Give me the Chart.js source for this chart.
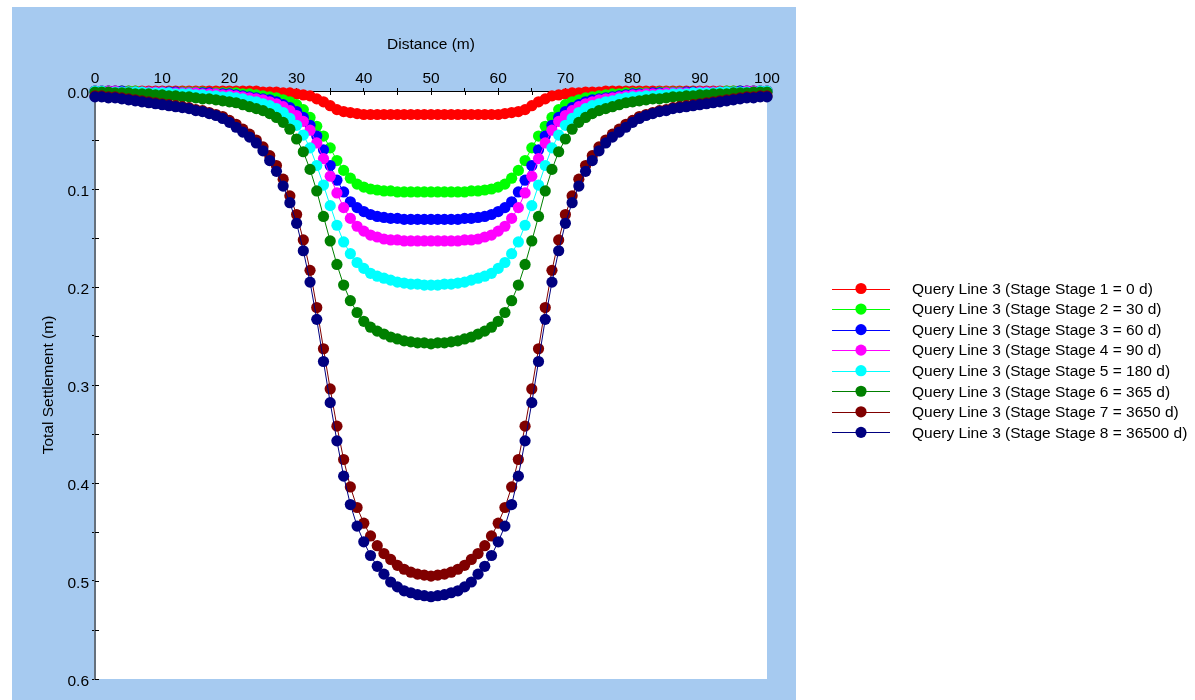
<!DOCTYPE html>
<html>
<head>
<meta charset="utf-8">
<title>Total Settlement along Query Line 3</title>
<script src="https://cdn.jsdelivr.net/npm/chart.js@4.4.1/dist/chart.umd.min.js"></script>
<style>
  html, body { margin: 0; padding: 0; background: #ffffff; }
  canvas { display: block; }
</style>
</head>
<body>
<canvas id="settlementChart" width="1195" height="700"></canvas>
<script>
// Distance along the query line (m)
const distance = [
  0,1,2,3,4,5,6,7,8,9,
  10,11,12,13,14,15,16,17,18,19,
  20,21,22,23,24,25,26,27,28,29,
  30,31,32,33,34,35,36,37,38,39,
  40,41,42,43,44,45,46,47,48,49,
  50,
  51,52,53,54,55,56,57,58,59,60,
  61,62,63,64,65,66,67,68,69,70,
  71,72,73,74,75,76,77,78,79,80,
  81,82,83,84,85,86,87,88,89,90,
  91,92,93,94,95,96,97,98,99,100
];

// Total settlement (m) at each distance, one array per stage
const stage1 = [
  0,0,0,0,0,0,0,0,0,0,
  0,0,0,0,0,0,0,0,0,0,
  0,0,0,0,0,0.001,0.001,0.001,0.002,0.002,
  0.003,0.004,0.005,0.008,0.011,0.015,0.019,0.021,0.022,0.023,
  0.024,0.024,0.024,0.024,0.024,0.024,0.024,0.024,0.024,0.024,
  0.024,
  0.024,0.024,0.024,0.024,0.024,0.024,0.024,0.024,0.024,0.024,
  0.023,0.022,0.021,0.019,0.015,0.011,0.008,0.005,0.004,0.003,
  0.002,0.002,0.001,0.001,0.001,0,0,0,0,0,
  0,0,0,0,0,0,0,0,0,0,
  0,0,0,0,0,0,0,0,0,0
];
const stage2 = [
  0,0,0,0,0,0,0,0.001,0.001,0.001,
  0.001,0.001,0.001,0.001,0.001,0.001,0.001,0.002,0.002,0.002,
  0.002,0.002,0.003,0.003,0.004,0.005,0.006,0.007,0.009,0.011,
  0.014,0.019,0.027,0.036,0.046,0.058,0.071,0.081,0.089,0.095,
  0.098,0.100,0.101,0.102,0.102,0.103,0.103,0.103,0.103,0.103,
  0.103,
  0.103,0.103,0.103,0.103,0.103,0.102,0.102,0.101,0.100,0.098,
  0.095,0.089,0.081,0.071,0.058,0.046,0.036,0.027,0.019,0.014,
  0.011,0.009,0.007,0.006,0.005,0.004,0.003,0.003,0.002,0.002,
  0.002,0.002,0.002,0.001,0.001,0.001,0.001,0.001,0.001,0.001,
  0.001,0.001,0.001,0,0,0,0,0,0,0
];
const stage3 = [
  0,0,0,0,0,0.001,0.001,0.001,0.001,0.001,
  0.001,0.001,0.001,0.002,0.002,0.002,0.002,0.002,0.003,0.003,
  0.003,0.004,0.005,0.006,0.007,0.008,0.009,0.011,0.014,0.017,
  0.021,0.027,0.035,0.046,0.060,0.076,0.091,0.103,0.113,0.119,
  0.123,0.126,0.128,0.129,0.130,0.130,0.131,0.131,0.131,0.131,
  0.131,
  0.131,0.131,0.131,0.131,0.130,0.130,0.129,0.128,0.126,0.123,
  0.119,0.113,0.103,0.091,0.076,0.060,0.046,0.035,0.027,0.021,
  0.017,0.014,0.011,0.009,0.008,0.007,0.006,0.005,0.004,0.003,
  0.003,0.003,0.002,0.002,0.002,0.002,0.002,0.001,0.001,0.001,
  0.001,0.001,0.001,0.001,0.001,0,0,0,0,0
];
const stage4 = [
  0,0,0,0,0.001,0.001,0.001,0.001,0.001,0.001,
  0.001,0.002,0.002,0.002,0.002,0.002,0.003,0.003,0.003,0.004,
  0.004,0.005,0.006,0.007,0.008,0.009,0.011,0.013,0.016,0.020,
  0.025,0.031,0.040,0.053,0.069,0.087,0.104,0.119,0.130,0.138,
  0.143,0.147,0.149,0.151,0.152,0.152,0.153,0.153,0.153,0.153,
  0.153,
  0.153,0.153,0.153,0.153,0.152,0.152,0.151,0.149,0.147,0.143,
  0.138,0.130,0.119,0.104,0.087,0.069,0.053,0.040,0.031,0.025,
  0.020,0.016,0.013,0.011,0.009,0.008,0.007,0.006,0.005,0.004,
  0.004,0.003,0.003,0.003,0.002,0.002,0.002,0.002,0.002,0.001,
  0.001,0.001,0.001,0.001,0.001,0.001,0,0,0,0
];
const stage5 = [
  0,0,0.001,0.001,0.001,0.001,0.001,0.001,0.002,0.002,
  0.002,0.002,0.003,0.003,0.003,0.004,0.004,0.005,0.005,0.006,
  0.006,0.007,0.008,0.010,0.011,0.013,0.015,0.018,0.022,0.028,
  0.035,0.045,0.058,0.076,0.096,0.117,0.137,0.154,0.166,0.175,
  0.181,0.186,0.189,0.191,0.193,0.195,0.196,0.197,0.197,0.198,
  0.198,
  0.198,0.197,0.197,0.196,0.195,0.193,0.191,0.189,0.186,0.181,
  0.175,0.166,0.154,0.137,0.117,0.096,0.076,0.058,0.045,0.035,
  0.028,0.022,0.018,0.015,0.013,0.011,0.010,0.008,0.007,0.006,
  0.006,0.005,0.005,0.004,0.004,0.003,0.003,0.003,0.002,0.002,
  0.002,0.002,0.001,0.001,0.001,0.001,0.001,0.001,0,0
];
const stage6 = [
  0.001,0.001,0.001,0.002,0.002,0.002,0.003,0.003,0.003,0.004,
  0.004,0.005,0.005,0.006,0.006,0.007,0.008,0.008,0.009,0.010,
  0.011,0.012,0.014,0.016,0.018,0.020,0.023,0.027,0.032,0.039,
  0.049,0.062,0.080,0.102,0.128,0.153,0.177,0.198,0.214,0.226,
  0.235,0.241,0.245,0.248,0.251,0.253,0.255,0.256,0.257,0.257,
  0.258,
  0.257,0.257,0.256,0.255,0.253,0.251,0.248,0.245,0.241,0.235,
  0.226,0.214,0.198,0.177,0.153,0.128,0.102,0.080,0.062,0.049,
  0.039,0.032,0.027,0.023,0.020,0.018,0.016,0.014,0.012,0.011,
  0.010,0.009,0.008,0.008,0.007,0.006,0.006,0.005,0.005,0.004,
  0.004,0.003,0.003,0.003,0.002,0.002,0.002,0.001,0.001,0.001
];
const stage7 = [
  0.005,0.005,0.006,0.006,0.007,0.008,0.009,0.010,0.011,0.012,
  0.013,0.014,0.015,0.016,0.017,0.019,0.020,0.022,0.024,0.026,
  0.030,0.034,0.039,0.044,0.050,0.057,0.066,0.076,0.090,0.107,
  0.126,0.152,0.183,0.221,0.263,0.304,0.342,0.376,0.404,0.425,
  0.441,0.454,0.464,0.472,0.478,0.484,0.488,0.491,0.493,0.494,
  0.495,
  0.494,0.493,0.491,0.488,0.484,0.478,0.472,0.464,0.454,0.441,
  0.425,0.404,0.376,0.342,0.304,0.263,0.221,0.183,0.152,0.126,
  0.107,0.090,0.076,0.066,0.057,0.050,0.044,0.039,0.034,0.030,
  0.026,0.024,0.022,0.020,0.019,0.017,0.016,0.015,0.014,0.013,
  0.012,0.011,0.010,0.009,0.008,0.007,0.006,0.006,0.005,0.005
];
const stage8 = [
  0.006,0.006,0.007,0.007,0.008,0.009,0.010,0.011,0.012,0.013,
  0.014,0.015,0.016,0.017,0.018,0.020,0.021,0.023,0.025,0.028,
  0.032,0.037,0.042,0.047,0.053,0.061,0.071,0.082,0.097,0.114,
  0.135,0.163,0.195,0.233,0.276,0.318,0.357,0.393,0.422,0.444,
  0.460,0.474,0.485,0.493,0.501,0.506,0.510,0.512,0.514,0.515,
  0.516,
  0.515,0.514,0.512,0.510,0.506,0.501,0.493,0.485,0.474,0.460,
  0.444,0.422,0.393,0.357,0.318,0.276,0.233,0.195,0.163,0.135,
  0.114,0.097,0.082,0.071,0.061,0.053,0.047,0.042,0.037,0.032,
  0.028,0.025,0.023,0.021,0.020,0.018,0.017,0.016,0.015,0.014,
  0.013,0.012,0.011,0.010,0.009,0.008,0.007,0.007,0.006,0.006
];

const stageLabels = [
  'Query Line 3 (Stage Stage 1 = 0 d)',
  'Query Line 3 (Stage Stage 2 = 30 d)',
  'Query Line 3 (Stage Stage 3 = 60 d)',
  'Query Line 3 (Stage Stage 4 = 90 d)',
  'Query Line 3 (Stage Stage 5 = 180 d)',
  'Query Line 3 (Stage Stage 6 = 365 d)',
  'Query Line 3 (Stage Stage 7 = 3650 d)',
  'Query Line 3 (Stage Stage 8 = 36500 d)'
];
const stageColors = ['#ff0000', '#00ff00', '#0000ff', '#ff00ff', '#00ffff', '#008000', '#800000', '#000080'];
const stageSeries = [stage1, stage2, stage3, stage4, stage5, stage6, stage7, stage8];

const xTickStep = 5;    // minor ticks every 5 m, labelled every 10 m
const yTickStep = 0.05; // minor ticks every 0.05 m, labelled every 0.1 m

Chart.defaults.font.family = '"Liberation Sans", Arial, sans-serif';
Chart.defaults.font.size = 15.5;
Chart.defaults.color = '#000000';

// Light-blue frame behind the axes and a white plotting area
const framePlugin = {
  id: 'frame',
  beforeDraw(chart, args, opts) {
    const { ctx, chartArea: a } = chart;
    ctx.save();
    ctx.fillStyle = '#ffffff';
    ctx.fillRect(0, 0, chart.width, chart.height);
    ctx.fillStyle = opts.color;
    ctx.fillRect(opts.left, opts.top, opts.right - opts.left, opts.bottom - opts.top);
    ctx.fillStyle = '#ffffff';
    ctx.fillRect(a.left, a.top, a.right - a.left, a.bottom - a.top);
    ctx.restore();
  }
};

// Tick marks continue a few pixels into the plotting area
const innerTicksPlugin = {
  id: 'innerTicks',
  beforeDatasetsDraw(chart, args, opts) {
    const { ctx, chartArea: a, scales } = chart;
    ctx.save();
    ctx.strokeStyle = opts.color;
    ctx.lineWidth = 1;
    ctx.beginPath();
    scales.x.ticks.forEach(t => {
      const px = Math.round(scales.x.getPixelForValue(t.value)) + 0.5;
      ctx.moveTo(px, a.top);
      ctx.lineTo(px, a.top + opts.length);
    });
    scales.y.ticks.forEach(t => {
      const py = Math.round(scales.y.getPixelForValue(t.value)) + 0.5;
      ctx.moveTo(a.left, py);
      ctx.lineTo(a.left + opts.length, py);
    });
    ctx.stroke();
    ctx.restore();
  }
};

// Legend to the right of the frame: line with a marker, then the stage name
const sideLegendPlugin = {
  id: 'sideLegend',
  afterDraw(chart, args, opts) {
    const ctx = chart.ctx;
    ctx.save();
    ctx.font = opts.font;
    ctx.textBaseline = 'middle';
    ctx.textAlign = 'left';
    chart.data.datasets.forEach((ds, i) => {
      const y = opts.top + i * opts.rowHeight;
      ctx.strokeStyle = ds.borderColor;
      ctx.lineWidth = 1;
      ctx.beginPath();
      ctx.moveTo(opts.x, Math.round(y) + 0.5);
      ctx.lineTo(opts.x + opts.lineLength, Math.round(y) + 0.5);
      ctx.stroke();
      ctx.fillStyle = ds.pointBackgroundColor;
      ctx.beginPath();
      ctx.arc(opts.x + opts.lineLength / 2, y, opts.markerRadius, 0, Math.PI * 2);
      ctx.fill();
      ctx.fillStyle = '#000000';
      ctx.fillText(ds.label, opts.textX, y + 1);
    });
    ctx.restore();
  }
};

const datasets = stageLabels.map((label, i) => ({
  label: label,
  data: distance.map((d, k) => ({ x: d, y: stageSeries[i][k] })),
  borderColor: stageColors[i],
  backgroundColor: stageColors[i],
  pointBackgroundColor: stageColors[i],
  pointBorderColor: stageColors[i],
  pointBorderWidth: 0,
  pointRadius: 5.6,
  borderWidth: 1,
  tension: 0,
  clip: false,
  order: stageLabels.length - i
}));

new Chart(document.getElementById('settlementChart'), {
  type: 'line',
  data: { datasets: datasets },
  plugins: [framePlugin, innerTicksPlugin, sideLegendPlugin],
  options: {
    responsive: false,
    animation: false,
    devicePixelRatio: 1,
    layout: { padding: { left: 0, top: 0, right: 428, bottom: 21 } },
    events: [],
    plugins: {
      legend: { display: false },
      tooltip: { enabled: false },
      frame: { color: '#a6caf0', left: 12, top: 7, right: 796, bottom: 700 },
      innerTicks: { color: '#000000', length: 4 },
      sideLegend: {
        font: '15.5px "Liberation Sans", Arial, sans-serif',
        x: 832, lineLength: 58, markerRadius: 5.6, textX: 912,
        top: 288.5, rowHeight: 20.55
      }
    },
    scales: {
      x: {
        type: 'linear',
        position: 'top',
        min: 0,
        max: 100,
        ticks: {
          stepSize: xTickStep,
          autoSkip: false,
          maxRotation: 0,
          padding: 0,
          color: '#000000',
          callback: v => (Math.round(v) % 10 === 0 ? String(Math.round(v)) : '')
        },
        grid: { drawOnChartArea: false, tickLength: 3, tickColor: '#000000' },
        border: { color: '#000000', width: 1 },
        title: { display: true, text: 'Distance (m)', color: '#000000', padding: { top: 35, bottom: 0 } },
        afterFit: s => { s.height = 91; }
      },
      y: {
        type: 'linear',
        reverse: true,
        min: 0,
        max: 0.6,
        ticks: {
          stepSize: yTickStep,
          autoSkip: false,
          padding: 3,
          labelOffset: 3,
          color: '#000000',
          callback: v => {
            const r = Math.round(v * 100);
            return r % 10 === 0 ? (r / 100).toFixed(1) : '';
          }
        },
        grid: { drawOnChartArea: false, tickLength: 3, tickColor: '#000000' },
        border: { color: '#65707c', width: 2 },
        title: { display: true, text: 'Total Settlement (m)', color: '#000000', padding: { top: 39, bottom: 0 } },
        afterFit: s => { s.width = 95; }
      }
    }
  }
});
</script>
</body>
</html>
